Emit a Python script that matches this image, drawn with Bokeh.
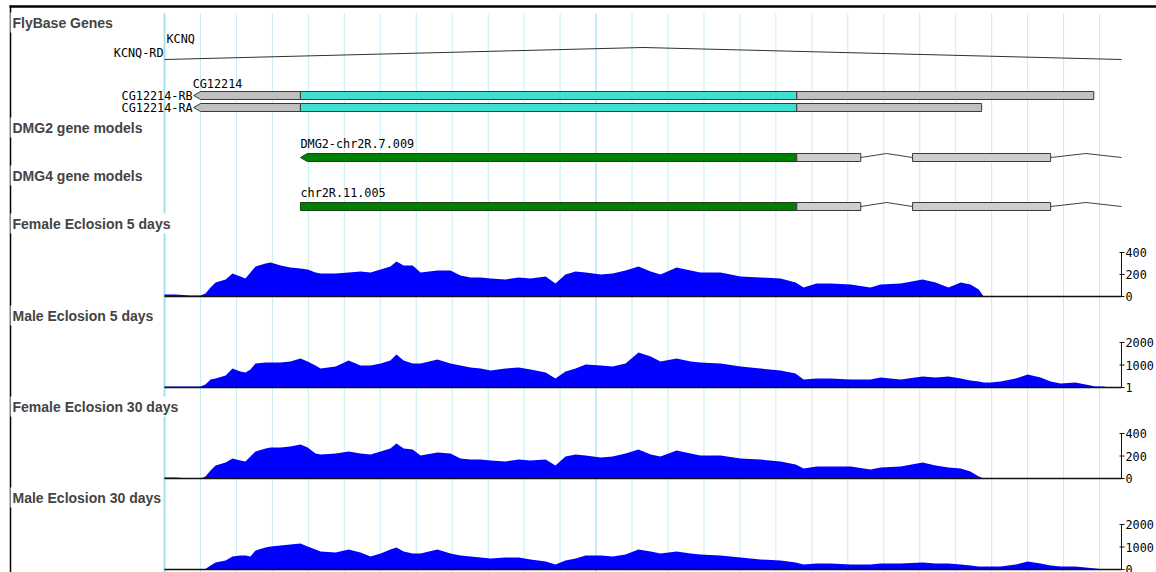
from bokeh.plotting import figure
from bokeh.models import Range1d, Label
from bokeh.core.properties import value
from bokeh.embed import file_html
from bokeh.resources import INLINE

# ---------------- region shown (bp, relative to the view start) ----------------
VIEW_START, VIEW_END = 0, 2661
GRID_STEP = 100
MAJOR_GRID = [0, 1200]

# ---------------- gene models (bp) ----------------
kcnq_rd_intron = (0, 2661)          # KCNQ-RD intron spans the whole view
cg12214_tip = 81                    # minus-strand transcript, arrow tip
cg12214_cds = (378, 1758)
cg12214_rb_end = 2584
cg12214_ra_end = 2272
dmg_cds = (378, 1758)
dmg_utr_exons = [(1758, 1936), (2080, 2464)]
dmg_introns = [(1936, 2080), (2464, 2661)]

# ---------------- RNA-seq coverage ----------------
cov_pos = [0, 31, 72, 100, 114, 128, 142, 170, 189, 211,
           225, 239, 253, 281, 295, 323, 350, 378, 398, 420,
           434, 476, 512, 545, 573, 601, 628, 645, 665, 690,
           712, 759, 795, 823, 851, 879, 907, 948, 985, 1018,
           1060, 1087, 1115, 1143, 1171, 1213, 1246, 1282, 1318, 1352,
           1379, 1424, 1463, 1490, 1546, 1602, 1657, 1713, 1755, 1777,
           1813, 1852, 1908, 1963, 1991, 2047, 2108, 2144, 2180, 2214,
           2241, 2264, 2278, 2297, 2325, 2367, 2400, 2436, 2464, 2492,
           2533, 2561, 2589, 2611, 2625]

female_5d = [18, 18, 9, 9, 27, 82, 127, 155, 209, 182,
             164, 218, 273, 300, 309, 282, 264, 255, 245, 218,
             209, 209, 218, 227, 218, 245, 273, 318, 282, 282,
             218, 236, 236, 191, 173, 173, 164, 155, 173, 164,
             182, 118, 200, 227, 218, 200, 209, 236, 273, 227,
             200, 264, 236, 218, 218, 182, 173, 164, 127, 82,
             118, 118, 109, 82, 109, 118, 155, 127, 82, 127,
             109, 64, 0, 0, 0, 0, 0, 0, 0, 0,
             0, 0, 0, 0, 0]

male_5d = [44, 44, 44, 44, 133, 356, 400, 533, 844, 711,
           667, 800, 1067, 1111, 1111, 1111, 1156, 1289, 1156, 978,
           844, 933, 1200, 978, 978, 1067, 1200, 1467, 1200, 1067,
           1067, 1244, 1067, 978, 889, 844, 756, 844, 889, 800,
           667, 400, 711, 844, 1022, 978, 933, 1067, 1556, 1378,
           1156, 1289, 1156, 1111, 1067, 933, 844, 756, 622, 356,
           400, 400, 356, 356, 444, 356, 489, 444, 489, 400,
           311, 267, 222, 222, 267, 400, 578, 444, 267, 178,
           222, 133, 44, 44, 0]

female_30d = [9, 9, 0, 0, 18, 71, 116, 142, 178, 160,
              151, 196, 240, 267, 276, 276, 285, 302, 276, 222,
              213, 222, 240, 222, 213, 240, 267, 311, 267, 258,
              204, 231, 222, 178, 169, 169, 160, 151, 169, 160,
              169, 116, 196, 213, 204, 187, 196, 222, 258, 213,
              196, 249, 222, 204, 204, 178, 169, 151, 124, 89,
              107, 107, 107, 80, 98, 107, 142, 116, 98, 89,
              62, 18, 0, 0, 0, 0, 0, 0, 0, 0,
              0, 0, 0, 0, 0]

male_30d = [22, 22, 0, 0, 22, 178, 311, 400, 578, 622,
            622, 578, 844, 978, 1022, 1067, 1111, 1156, 1022, 889,
            800, 756, 889, 756, 578, 711, 889, 978, 800, 711,
            711, 889, 711, 622, 578, 533, 489, 533, 533, 444,
            356, 222, 400, 489, 622, 622, 578, 667, 889, 800,
            711, 800, 711, 667, 622, 533, 444, 400, 311, 222,
            267, 267, 222, 222, 267, 267, 311, 267, 267, 222,
            178, 133, 133, 133, 133, 222, 356, 267, 178, 133,
            133, 89, 44, 0, 0]

track_names = ["FlyBase Genes", "DMG2 gene models", "DMG4 gene models",
               "Female Eclosion 5 days", "Male Eclosion 5 days",
               "Female Eclosion 30 days", "Male Eclosion 30 days"]

coverage_tracks = [
    # name, values, scale max, tick values, tick labels
    ("fe5", female_5d, 400, [0, 200, 400], ["0", "200", "400"]),
    ("ma5", male_5d, 2000, [1, 1000, 2000], ["1", "1000", "2000"]),
    ("fe30", female_30d, 400, [0, 200, 400], ["0", "200", "400"]),
    ("ma30", male_30d, 2000, [0, 1000, 2000], ["0", "1000", "2000"]),
]

# ---------------- page layout (pixels) ----------------
W, H = 1156, 572
PANEL_L, PANEL_R = 164, 1121
ppb = (PANEL_R - PANEL_L) / (VIEW_END - VIEW_START)   # pixels per bp
X0 = VIEW_START - PANEL_L / ppb
X1 = VIEW_END + (W - PANEL_R) / ppb


def sx(px):
    """window pixel column -> bp coordinate"""
    return X0 + px / ppb


label_rows = [22, 127, 175, 223, 315, 406, 497]
cov_rows = [(296, 252), (387, 342), (478, 433), (569, 524)]  # baseline, top-of-scale

MONO = value("DejaVu Sans Mono")
SMALL = "11.8px"
EDGE = "#3a3a3a"
GRAY = "#c0c0c0"
GRAY2 = "#cdcdcd"
CDS_CG = "#40e0d0"
CDS_DMG = "#008000"
ARROW = 7 / ppb

p = figure(width=W, height=H, x_range=Range1d(X0, X1), y_range=Range1d(H, 0),
           min_border=0, toolbar_location=None, output_backend="svg",
           x_axis_location=None, y_axis_location=None)
p.xgrid.visible = False
p.ygrid.visible = False
p.outline_line_color = None
p.background_fill_color = "white"
p.border_fill_color = "white"

# ---- vertical guide lines every 100 bp ----
grid_x = list(range(VIEW_START, VIEW_END, GRID_STEP))
minor = [g for g in grid_x if g not in MAJOR_GRID]
p.segment(x0=minor, y0=13, x1=minor, y1=H, line_color="#c4ecf2", line_width=1)
p.segment(x0=[MAJOR_GRID[0]], y0=13, x1=[MAJOR_GRID[0]], y1=H,
          line_color="#a6e0ec", line_width=2)
p.segment(x0=MAJOR_GRID[1:], y0=13, x1=MAJOR_GRID[1:], y1=H,
          line_color="#98d4ee", line_width=1)

# ---- frame lines ----
p.segment(x0=[sx(9)], y0=[6], x1=[sx(W)], y1=[6], line_color="black", line_width=2.5)
p.segment(x0=[sx(10)], y0=[5], x1=[sx(10)], y1=[H], line_color="black", line_width=1.5)

# ---- FlyBase: KCNQ-RD intron connector ----
k0, k1 = kcnq_rd_intron
p.line(x=[k0, (k0 + k1) / 2, k1], y=[59, 47, 59], line_color="#303030", line_width=1)
p.text(x=[k0], y=[38], text=["KCNQ"], text_font=MONO, text_font_size=SMALL,
       text_baseline="middle", text_align="left", x_offset=2)
p.text(x=[k0], y=[52], text=["KCNQ-RD"], text_font=MONO, text_font_size=SMALL,
       text_baseline="middle", text_align="right", x_offset=-1)

# ---- FlyBase: CG12214 transcripts ----
for yc, end in [(95, cg12214_rb_end), (107, cg12214_ra_end)]:
    top, bot = yc - 4, yc + 4
    p.patch(x=[cg12214_tip, cg12214_tip + ARROW, cg12214_cds[0], cg12214_cds[0],
               cg12214_tip + ARROW],
            y=[yc, top, top, bot, bot], fill_color=GRAY, line_color=EDGE, line_width=1)
    p.quad(left=[cg12214_cds[0]], right=[cg12214_cds[1]], top=[top], bottom=[bot],
           fill_color=CDS_CG, line_color=EDGE, line_width=1)
    p.quad(left=[cg12214_cds[1]], right=[end], top=[top], bottom=[bot],
           fill_color=GRAY, line_color=EDGE, line_width=1)
p.text(x=[cg12214_tip], y=[83], text=["CG12214"], text_font=MONO, text_font_size=SMALL,
       text_baseline="middle", text_align="left", x_offset=-1)
p.text(x=[cg12214_tip, cg12214_tip], y=[95, 107], text=["CG12214-RB", "CG12214-RA"],
       text_font=MONO, text_font_size=SMALL, text_baseline="middle", text_align="right",
       x_offset=-1)

# ---- DMG2 / DMG4 gene models ----
for yc, name, arrow in [(157, "DMG2-chr2R.7.009", True), (206, "chr2R.11.005", False)]:
    top, bot = yc - 4, yc + 4
    c0, c1 = dmg_cds
    if arrow:
        p.patch(x=[c0, c0 + ARROW, c1, c1, c0 + ARROW], y=[yc, top, top, bot, bot],
                fill_color=CDS_DMG, line_color="#1e3e1e", line_width=1)
    else:
        p.quad(left=[c0], right=[c1], top=[top], bottom=[bot],
               fill_color=CDS_DMG, line_color="#1e3e1e", line_width=1)
    p.quad(left=[e[0] for e in dmg_utr_exons], right=[e[1] for e in dmg_utr_exons],
           top=top, bottom=bot, fill_color=GRAY2, line_color=EDGE, line_width=1)
    for i0, i1 in dmg_introns:
        p.line(x=[i0, (i0 + i1) / 2, i1], y=[yc, top, yc], line_color="#404040", line_width=1)
    p.text(x=[c0], y=[yc - 14], text=[name], text_font=MONO, text_font_size=SMALL,
           text_baseline="middle", text_align="left")

# ---- coverage tracks ----
for (key, vals, vmax, ticks, tick_labels), (base_px, top_px) in zip(coverage_tracks, cov_rows):
    per_px = vmax / (base_px - top_px)
    p.extra_y_ranges[key] = Range1d(-(H - base_px) * per_px, base_px * per_px)
    p.varea(x=cov_pos, y1=0, y2=vals, fill_color="#0000ff", y_range_name=key)
    p.line(x=[VIEW_START, VIEW_END], y=[0, 0], line_color="#111111", line_width=1.5,
           y_range_name=key)
    p.line(x=[VIEW_END, VIEW_END], y=[0, vmax], line_color="#111111", line_width=1,
           y_range_name=key)
    p.segment(x0=[VIEW_END - 2 / ppb] * len(ticks), y0=ticks,
              x1=[VIEW_END + 3 / ppb] * len(ticks), y1=ticks,
              line_color="#111111", line_width=1, y_range_name=key)
    p.text(x=[VIEW_END] * len(ticks), y=ticks, text=tick_labels, text_font=MONO,
           text_font_size=SMALL, text_baseline="middle", text_align="left",
           x_offset=4, y_range_name=key)

# ---- track titles ----
for name, yc in zip(track_names, label_rows):
    p.add_layout(Label(x=10, y=yc, x_units="screen", y_units="data", text=name,
                       text_font="Liberation Sans", text_font_style="bold",
                       text_font_size="14px", text_baseline="middle",
                       background_fill_color="white", background_fill_alpha=1.0,
                       padding=2))

open("out.html", "w").write(file_html(p, INLINE))
